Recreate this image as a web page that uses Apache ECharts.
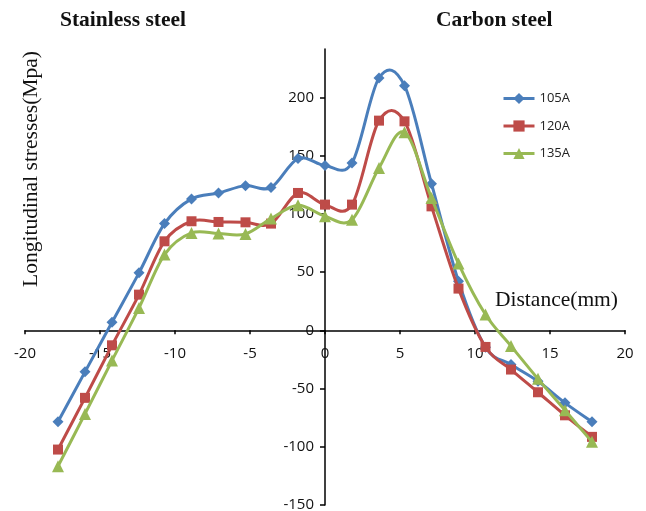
<!DOCTYPE html>
<html><head><meta charset="utf-8">
<script src="https://cdn.jsdelivr.net/npm/echarts@6/dist/echarts.min.js"></script>
<style>html,body{margin:0;padding:0;background:#fff}#c{width:646px;height:511px}</style>
</head><body><div id="c"></div>
<script>
const distance = [-17.8, -16.0, -14.2, -12.4, -10.7, -8.9, -7.1, -5.3, -3.6, -1.8, 0, 1.8, 3.6, 5.3, 7.1, 8.9, 10.7, 12.4, 14.2, 16.0, 17.8];
const s105A = [-78.6, -35.7, 6.9, 49.3, 91.6, 112.8, 117.9, 124.2, 122.5, 147.4, 141.4, 143.7, 216.6, 210.0, 125.9, 42.0, -14.5, -29.4, -43.8, -62.3, -78.6];
const s120A = [-102.4, -58.0, -12.9, 30.6, 76.4, 93.6, 93.0, 92.7, 91.6, 117.9, 107.9, 107.9, 180.0, 179.4, 106.4, 35.8, -14.3, -33.7, -53.2, -73.0, -91.5];
const s135A = [-116.7, -71.8, -26.0, 19.2, 65.0, 83.6, 83.0, 82.7, 95.9, 107.3, 97.9, 95.0, 139.4, 170.0, 113.6, 57.3, 13.5, -13.5, -41.7, -68.7, -95.8];
const seriesNames = ['105A', '120A', '135A'];
const xTicks = [-20, -15, -10, -5, 0, 5, 10, 15, 20];
const yTicks = [-150, -100, -50, 0, 50, 100, 150, 200];

const colors = ['#4A7EBB', '#BE4B48', '#98B954'];
const symbols = ['diamond', 'rect', 'triangle'];
const sizes = [11, 10, 12];
const allData = [s105A, s120A, s135A];

const W = 646, H = 511;
const grid = { left: 25, right: 21, top: 49, bottom: 6 };
const xMin = -20, xMax = 20, yMin = -150, yMax = 241.5;
const plotW = W - grid.left - grid.right, plotH = H - grid.top - grid.bottom;
// place axes where the other axis is zero (as in the original chart)
const xAxisOffset = -((0 - yMin) / (yMax - yMin)) * plotH;
const yAxisOffset = -((0 - xMin) / (xMax - xMin)) * plotW;

function pairs(ys) { return distance.map((x, i) => [x, ys[i]]); }

// Excel-like smoothed curve (Catmull-Rom style Bezier) through points via library coords
function curveRenderer(ys, color) {
  return function (params, api) {
    const p = distance.map((x, i) => api.coord([x, ys[i]]));
    let d = 'M' + p[0][0] + ' ' + p[0][1];
    const n = p.length;
    for (let i = 0; i < n - 1; i++) {
      const p0 = p[Math.max(i - 1, 0)], p1 = p[i], p2 = p[i + 1], p3 = p[Math.min(i + 2, n - 1)];
      const c1x = p1[0] + (p2[0] - p0[0]) / 6, c1y = p1[1] + (p2[1] - p0[1]) / 6;
      const c2x = p2[0] - (p3[0] - p1[0]) / 6, c2y = p2[1] - (p3[1] - p1[1]) / 6;
      d += ' C' + c1x + ' ' + c1y + ' ' + c2x + ' ' + c2y + ' ' + p2[0] + ' ' + p2[1];
    }
    return { type: 'path', shape: { pathData: d }, style: { stroke: color, lineWidth: 3, fill: 'none' }, silent: true };
  };
}

const chart = echarts.init(document.getElementById('c'), null, { renderer: 'canvas' });
const axisFont = { fontFamily: 'Open Sans', fontSize: 15, color: '#111' };
const series = [];
seriesNames.forEach((n, i) => {
  series.push({
    name: n + ' curve', type: 'custom', data: [[0, 0]], z: 2 + i * 2,
    renderItem: curveRenderer(allData[i], colors[i])
  });
  series.push({
    name: n, type: 'line', data: pairs(allData[i]), z: 3 + i * 2,
    symbol: symbols[i], symbolSize: sizes[i], showAllSymbol: true,
    lineStyle: { color: colors[i], width: 3, opacity: 0 },
    itemStyle: { color: colors[i] }
  });
});

const option = {
  animation: false,
  backgroundColor: '#fff',
  grid: Object.assign({ containLabel: false, outerBoundsMode: 'none' }, grid),
  xAxis: {
    type: 'value', min: xMin, max: xMax, interval: 5, position: 'bottom', offset: xAxisOffset,
    axisLine: { show: true, onZero: false, lineStyle: { color: '#000', width: 1.5 } },
    axisTick: { show: true, length: 4, lineStyle: { color: '#000', width: 1.5 } },
    axisLabel: Object.assign({ margin: 16, formatter: v => xTicks.includes(v) ? String(v) : '' }, axisFont),
    splitLine: { show: false }
  },
  yAxis: {
    type: 'value', min: yMin, max: yMax, interval: 50, position: 'left', offset: yAxisOffset,
    axisLine: { show: true, onZero: false, lineStyle: { color: '#000', width: 1.5 } },
    axisTick: { show: true, length: 5, lineStyle: { color: '#000', width: 1.5 } },
    axisLabel: Object.assign({ margin: 11, showMaxLabel: false, formatter: v => yTicks.includes(v) ? String(v) : '' }, axisFont),
    splitLine: { show: false }
  },
  legend: {
    orient: 'vertical', left: 497, top: 87, itemWidth: 31, itemHeight: 14, itemGap: 14.5,
    textStyle: { fontFamily: 'Open Sans', fontSize: 13, color: '#222' },
    data: seriesNames.map((n, i) => ({ name: n, lineStyle: { color: colors[i], width: 3, opacity: 1 } }))
  },
  series: series,
  graphic: [
    { type: 'text', left: 60, top: 9, style: { text: 'Stainless steel', font: 'bold 21.5px "Liberation Serif"', fill: '#111' } },
    { type: 'text', left: 436, top: 9, style: { text: 'Carbon steel', font: 'bold 21.5px "Liberation Serif"', fill: '#111' } },
    { type: 'text', left: 495, top: 289, style: { text: 'Distance(mm)', font: '21.5px "Liberation Serif"', fill: '#111' } },
    { type: 'text', x: 31, y: 169, rotation: Math.PI / 2, style: { text: 'Longitudinal stresses(Mpa)', font: '21.5px "Liberation Serif"', fill: '#111', align: 'center', verticalAlign: 'middle' } }
  ]
};
chart.setOption(option);
</script>
</body></html>
